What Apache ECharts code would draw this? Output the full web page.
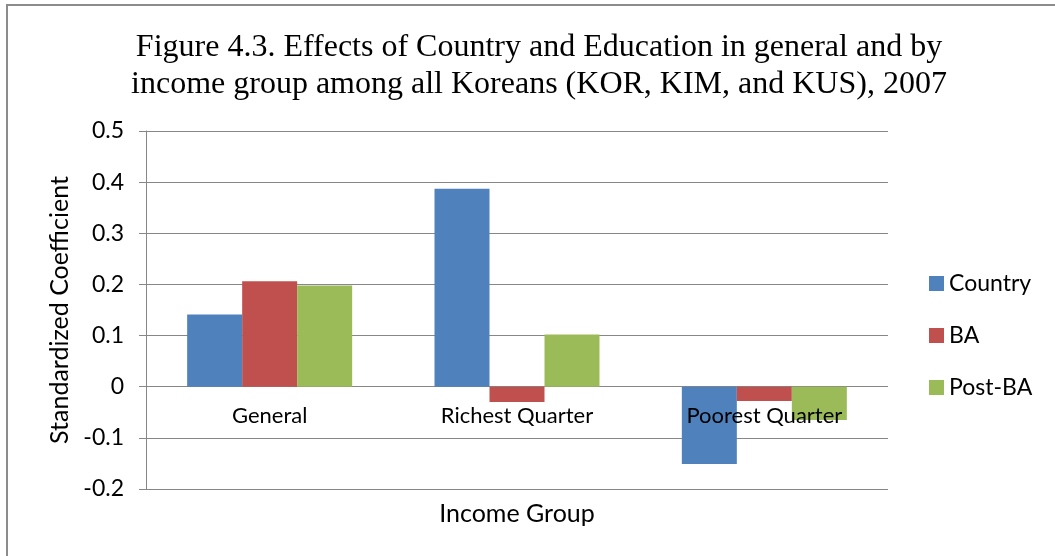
<!DOCTYPE html>
<html>
<head>
<meta charset="utf-8">
<script src="https://cdn.jsdelivr.net/npm/echarts@6/dist/echarts.min.js"></script>
<style>
  html, body { margin: 0; padding: 0; background: #fff; }
  #main { width: 1055px; height: 556px; }
</style>
</head>
<body>
<div id="main"></div>
<script>
// data
var categories = ["General", "Richest Quarter", "Poorest Quarter"];
var country = [0.141, 0.387, -0.151];
var ba = [0.206, -0.030, -0.028];
var postBa = [0.198, 0.102, -0.065];
var yTicks = { min: -0.2, max: 0.5, interval: 0.1 };

var chart = echarts.init(document.getElementById("main"));
var labelFont = "Lato";
var gridGray = "#878787";

chart.setOption({
  backgroundColor: "#ffffff",
  animation: false,
  title: {
    text: "Figure 4.3. Effects of Country and Education in general and by\nincome group among all Koreans (KOR, KIM, and KUS), 2007",
    left: 534,
    textAlign: "center",
    top: 24,
    textStyle: {
      fontFamily: "Liberation Serif",
      fontSize: 32,
      fontWeight: "normal",
      color: "#000",
      lineHeight: 37
    }
  },
  graphic: [
    { // chart frame, only top and left edges are in view
      type: "rect",
      shape: { x: 7, y: 5, width: 1200, height: 700 },
      style: { fill: "none", stroke: "#8c8c8c", lineWidth: 2 },
      silent: true
    }
  ],
  legend: {
    orient: "vertical",
    left: 929,
    top: 272,
    padding: 0,
    itemWidth: 15,
    itemHeight: 15,
    itemGap: 29,
    icon: "rect",
    textStyle: { fontFamily: labelFont, fontSize: 23, color: "#000" },
    data: ["Country", "BA", "Post-BA"]
  },
  grid: { left: 146, right: 167, top: 131, bottom: 67, outerBoundsMode: "none" },
  xAxis: {
    type: "category",
    data: categories,
    z: 10,
    name: "Income Group",
    nameLocation: "middle",
    nameGap: 12,
    nameTextStyle: { fontFamily: labelFont, fontSize: 25, color: "#000", verticalAlign: "top" },
    axisLine: { show: false, onZero: false },
    axisTick: { show: false },
    // labels sit just under the zero line, as in the original
    axisLabel: { fontFamily: labelFont, fontSize: 22, color: "#000", margin: -84, interval: 0 },
    splitLine: { show: false }
  },
  yAxis: {
    type: "value",
    min: yTicks.min,
    max: yTicks.max,
    interval: yTicks.interval,
    name: "Standardized Coefficient",
    nameLocation: "middle",
    nameGap: 73,
    nameTextStyle: { fontFamily: labelFont, fontSize: 25, color: "#000" },
    axisLine: { show: true, lineStyle: { color: gridGray, width: 1 } },
    axisTick: { show: true, length: 7, lineStyle: { color: gridGray } },
    axisLabel: {
      fontFamily: labelFont,
      fontSize: 23,
      color: "#000",
      margin: 22,
      formatter: function (v) { return Math.round(v * 10) / 10 + ""; }
    },
    splitLine: { lineStyle: { color: gridGray, width: 1 } }
  },
  series: [
    { name: "Country", type: "bar", data: country, barWidth: 55, barGap: "0%", itemStyle: { color: "#4F81BD" } },
    { name: "BA", type: "bar", data: ba, barWidth: 55, barGap: "0%", itemStyle: { color: "#C0504D" } },
    { name: "Post-BA", type: "bar", data: postBa, barWidth: 55, barGap: "0%", itemStyle: { color: "#9BBB59" } }
  ]
});
</script>
</body>
</html>
